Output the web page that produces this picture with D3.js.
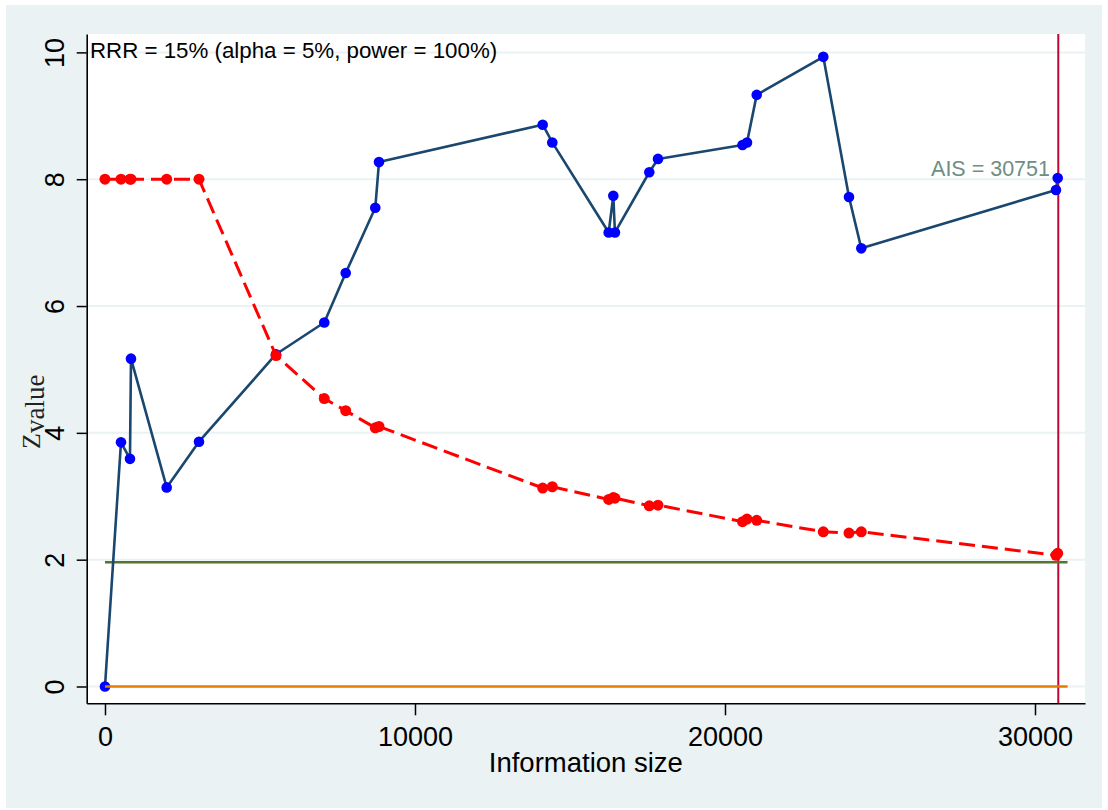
<!DOCTYPE html>
<html>
<head>
<meta charset="utf-8">
<script src="https://cdn.jsdelivr.net/npm/d3@7"></script>
<style>
  html, body { margin: 0; padding: 0; background: #ffffff; }
  svg { display: block; }
</style>
</head>
<body>
<svg id="chart" width="1108" height="810"></svg>
<script>
// ---- data ----
const infoSize = [0, 516, 806, 839, 1990, 3032, 5516, 7074, 7765, 8719, 8839, 14119, 14429, 16248, 16397, 16450, 17558, 17839, 20565, 20710, 21023, 23171, 24000, 24397, 30677, 30732];
const zCumulative = [0, 3.85, 3.59, 5.17, 3.14, 3.86, 5.24, 5.74, 6.52, 7.55, 8.27, 8.86, 8.58, 7.16, 7.74, 7.16, 8.11, 8.32, 8.54, 8.58, 9.33, 9.93, 7.72, 6.91, 7.83, 8.02];
const zBoundary = [8, 8, 8, 8, 8, 8, 5.22, 4.54, 4.35, 4.08, 4.10, 3.13, 3.15, 2.95, 2.98, 2.97, 2.85, 2.86, 2.60, 2.64, 2.62, 2.44, 2.42, 2.44, 2.07, 2.10];
const xTicks = [0, 10000, 20000, 30000];
const yTicks = [0, 2, 4, 6, 8, 10];
const ais = 30751;
const zCritical = 1.96;
const refLineEnd = 31050;
const annotation = "RRR = 15% (alpha = 5%, power = 100%)";
const aisLabel = "AIS = 30751";
const xTitle = "Information size";

// ---- layout ----
const svg = d3.select("#chart");
const L = 86.7, R = 1085, T = 34, B = 703.3;
const font = "'Liberation Sans', Arial, sans-serif";

svg.append("rect").attr("x", 6).attr("y", 5).attr("width", 1096).attr("height", 803).attr("fill", "#EAF2F3");
svg.append("rect").attr("x", L).attr("y", T).attr("width", R - L).attr("height", B - T).attr("fill", "#ffffff");

const x = d3.scaleLinear().domain([-590, 31613]).range([L, R]);
const y = d3.scaleLinear().domain([-0.265, 10.29]).range([B, T]);

// gridlines
svg.append("g").selectAll("line").data(yTicks).join("line")
  .attr("x1", L).attr("x2", R)
  .attr("y1", d => y(d)).attr("y2", d => y(d))
  .attr("stroke", "#EAF2F3").attr("stroke-width", 2);

// reference lines
svg.append("line").attr("x1", x(ais)).attr("x2", x(ais)).attr("y1", T).attr("y2", B)
  .attr("stroke", "#C10534").attr("stroke-width", 2);
svg.append("line").attr("x1", x(0)).attr("x2", x(refLineEnd)).attr("y1", y(zCritical)).attr("y2", y(zCritical))
  .attr("stroke", "#55752F").attr("stroke-width", 2.5);

// cumulative Z
const pts = infoSize.map((d, i) => [d, zCumulative[i]]);
const bnd = infoSize.map((d, i) => [d, zBoundary[i]]);
const line = d3.line().x(d => x(d[0])).y(d => y(d[1]));

svg.append("path").datum(pts).attr("d", line).attr("fill", "none")
  .attr("stroke", "#1A476F").attr("stroke-width", 2.6).attr("stroke-linejoin", "round");
svg.append("g").selectAll("circle").data(pts).join("circle")
  .attr("cx", d => x(d[0])).attr("cy", d => y(d[1])).attr("r", 5.3).attr("fill", "#0000FF");

// boundary
svg.append("path").datum(bnd).attr("d", line).attr("fill", "none")
  .attr("stroke", "#FF0000").attr("stroke-width", 3).attr("stroke-dasharray", "16,7");
svg.append("g").selectAll("circle").data(bnd).join("circle")
  .attr("cx", d => x(d[0])).attr("cy", d => y(d[1])).attr("r", 5.5).attr("fill", "#FF0000");

// zero line
svg.append("line").attr("x1", x(0)).attr("x2", x(refLineEnd)).attr("y1", y(0)).attr("y2", y(0))
  .attr("stroke", "#E37E00").attr("stroke-width", 2.5);

// axes
const yAxis = svg.append("g").attr("transform", `translate(${L},0)`)
  .call(d3.axisLeft(y).tickValues(yTicks).tickSize(10).tickSizeOuter(0).tickFormat(d3.format("d")));
yAxis.selectAll("text")
  .attr("x", 0).attr("dy", 0).attr("text-anchor", "middle")
  .attr("transform", "translate(-22.7,0) rotate(-90)")
  .style("font-family", font).style("font-size", "27px").attr("fill", "#000");
const xAxis = svg.append("g").attr("transform", `translate(0,${B})`)
  .call(d3.axisBottom(x).tickValues(xTicks).tickSize(12).tickSizeOuter(0).tickFormat(d3.format("d")));
xAxis.selectAll("text").attr("y", 42.4).attr("dy", 0)
  .style("font-family", font).style("font-size", "27px").attr("fill", "#000");
svg.selectAll(".domain").attr("stroke", "#000").attr("stroke-width", 1.6);
svg.selectAll(".tick line").attr("stroke", "#000").attr("stroke-width", 1.5);

// texts
svg.append("text").attr("x", 90).attr("y", 58).text(annotation)
  .style("font-family", font).style("font-size", "22.3px").attr("fill", "#000");
svg.append("text").attr("x", 1050).attr("y", 176).attr("text-anchor", "end").text(aisLabel)
  .style("font-family", font).style("font-size", "21.5px").attr("fill", "#6E8E84");
svg.append("text").attr("x", (L + R) / 2).attr("y", 772).attr("text-anchor", "middle").text(xTitle)
  .style("font-family", font).style("font-size", "27.5px").attr("fill", "#000");

const yTitle = svg.append("text").attr("transform", "translate(40,449) rotate(-90)")
  .style("font-family", "'Liberation Serif', 'Times New Roman', serif").attr("fill", "#222");
yTitle.append("tspan").text("Z").style("font-size", "26px");
yTitle.append("tspan").attr("dy", 4).text("value").style("font-size", "27px");
</script>
</body>
</html>
